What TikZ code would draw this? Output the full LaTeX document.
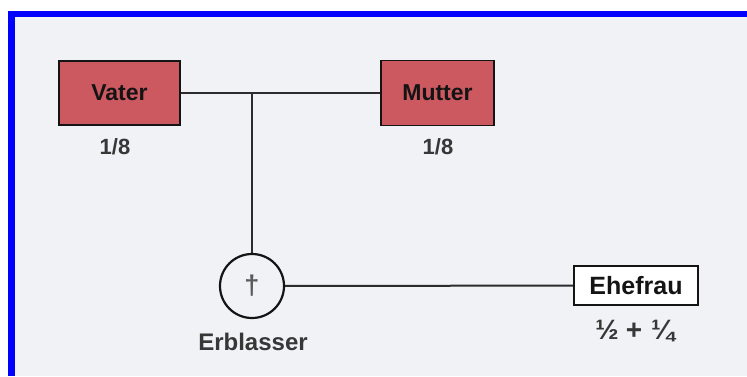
\documentclass[tikz,border=0pt]{standalone}
\usepackage{fontspec}
\setmainfont{Liberation Sans}
\usepackage{tikz}

\definecolor{rahmenblau}{RGB}{0,0,255}
\definecolor{papier}{RGB}{240,242,246}
\definecolor{elternrot}{RGB}{204,88,96}
\definecolor{strich}{RGB}{20,20,20}

\tikzset{
    eltern/.style={draw=strich, line width=1.8pt, fill=elternrot, inner sep=0pt,
        font=\fontsize{23}{26}\selectfont\bfseries, text=strich},
    anteil/.style={font=\fontsize{22}{26}\selectfont\bfseries, text=strich!85!white},
    linie/.style={draw=strich!90!white, line width=2pt}
}

\begin{document}
\begin{tikzpicture}[x=1pt,y=-1pt]
    % Define the frame and background
    \useasboundingbox (0,0) rectangle (747,376);
    \fill[white] (0,0) rectangle (747,376);
    \fill[papier] (15,17) rectangle (747,376);
    \fill[rahmenblau] (8,11) rectangle (747,17);
    \fill[rahmenblau] (8,11) rectangle (15,376);

    % Draw the persons
    \node[eltern, minimum width=121pt, minimum height=64pt] (vater) at (119.5,93) {Vater};
    \node[eltern, minimum width=113pt, minimum height=65pt] (mutter) at (437.5,93) {Mutter};
    \node[circle, draw=strich, line width=2.2pt, minimum size=64pt, inner sep=0pt,
        font=\fontsize{27}{30}\selectfont\bfseries, text=strich!70!white] (erbl) at (252,286) {†};
    \node[draw=strich, line width=2pt, fill=white, minimum width=124pt, minimum height=39pt,
        inner sep=0pt, font=\fontsize{25}{28}\selectfont\bfseries, text=strich] (ehefrau) at (636,285.5) {Ehefrau};

    % Label the shares
    \node[anteil] (anteilV) at (115,147) {1/8};
    \node[anteil] (anteilM) at (438,147) {1/8};
    \node[anteil, font=\fontsize{24}{28}\selectfont\bfseries] (name) at (253,342) {Erblasser};
    \node[anteil, font=\fontsize{28}{30}\selectfont\bfseries] (anteilE) at (635,331) {½\hspace{7pt}+\hspace{9pt}¼};

    % Draw the connections
    \draw[linie] (vater) -- (mutter);
    \draw[linie] (erbl.north) -- (erbl.north |- vater.east);
    \draw[linie] (erbl) -- (ehefrau);
\end{tikzpicture}
\end{document}
